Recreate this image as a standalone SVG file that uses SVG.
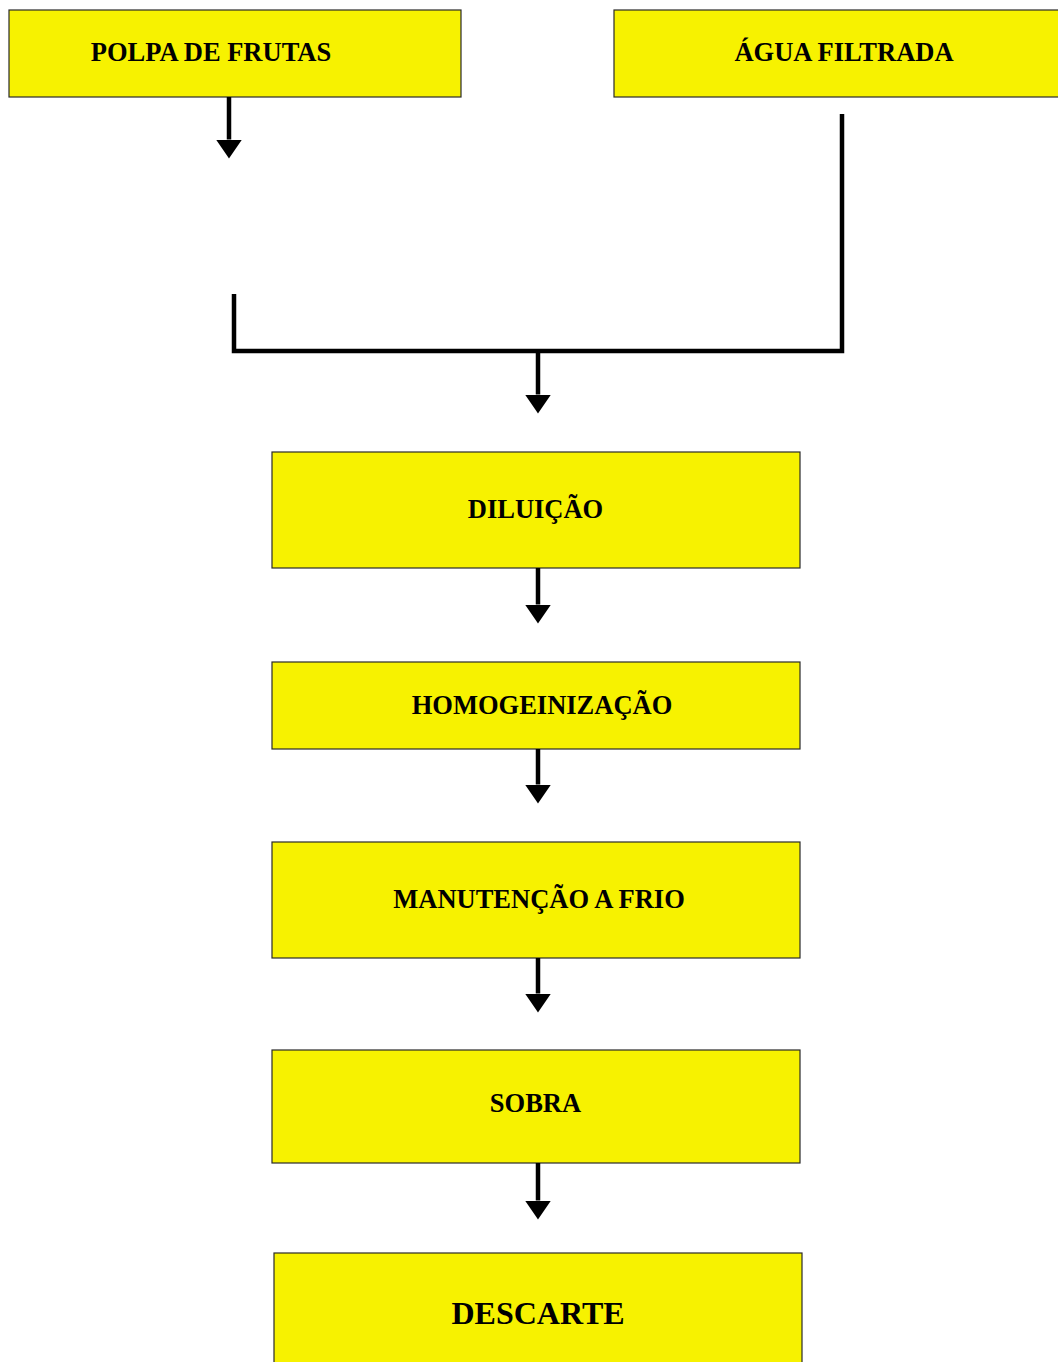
<svg xmlns="http://www.w3.org/2000/svg" width="1058" height="1362" viewBox="0 0 1058 1362">
<style>
.box{fill:#F7F200;stroke:#2a2a2a;stroke-width:1.2}
.lbl{font-family:"Liberation Serif","Times New Roman",serif;font-weight:bold;font-size:26.5px;fill:#000;text-anchor:middle}
.big{font-size:32px}
.ln{fill:none;stroke:#000;stroke-width:4.5}
</style>
<defs>
<marker id="ah" markerUnits="userSpaceOnUse" markerWidth="20" markerHeight="26" refX="0" refY="13" orient="auto" viewBox="0 0 20 26">
<path d="M0,0 L19,13 L0,26 Z" fill="#000"/>
</marker>
</defs>
<rect width="1058" height="1362" fill="#fff"/>
<g id="n-polpa"><rect class="box" x="9" y="10" width="452" height="87"/><text class="lbl" x="211" y="61">POLPA DE FRUTAS</text></g>
<g id="n-agua"><rect class="box" x="614" y="10" width="450" height="87"/><text class="lbl" x="844" y="60.5">ÁGUA FILTRADA</text></g>
<g id="n-diluicao"><rect class="box" x="272" y="452" width="528" height="116"/><text class="lbl" x="535.5" y="518">DILUIÇÃO</text></g>
<g id="n-homog"><rect class="box" x="272" y="662" width="528" height="87"/><text class="lbl" x="542" y="714">HOMOGEINIZAÇÃO</text></g>
<g id="n-manut"><rect class="box" x="272" y="842" width="528" height="116"/><text class="lbl" x="539" y="908">MANUTENÇÃO A FRIO</text></g>
<g id="n-sobra"><rect class="box" x="272" y="1050" width="528" height="113"/><text class="lbl" x="535.5" y="1112">SOBRA</text></g>
<g id="n-descarte"><rect class="box" x="274" y="1253" width="528" height="120"/><text class="lbl big" x="538" y="1324">DESCARTE</text></g>
<g id="connectors">
<path class="ln" d="M229,97 V139.5" marker-end="url(#ah)"/>
<path class="ln" d="M842,114 V351 H234 V294"/>
<path class="ln" d="M538,351 V394.5" marker-end="url(#ah)"/>
<path class="ln" d="M538,568 V604.5" marker-end="url(#ah)"/>
<path class="ln" d="M538,749 V784.5" marker-end="url(#ah)"/>
<path class="ln" d="M538,958 V993.5" marker-end="url(#ah)"/>
<path class="ln" d="M538,1163 V1200.5" marker-end="url(#ah)"/>
</g>
</svg>
